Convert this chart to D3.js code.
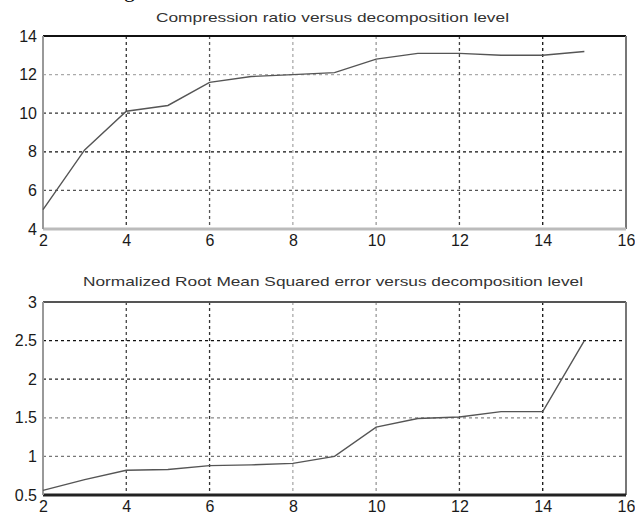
<!DOCTYPE html>
<html>
<head>
<meta charset="utf-8">
<script src="https://cdn.jsdelivr.net/npm/d3@7"></script>
<style>
  body { margin: 0; background: #fff; }
  svg { display: block; font-family: "Liberation Sans", Arial, sans-serif; }
</style>
</head>
<body>
<svg id="chart" width="635" height="520"></svg>
<script>
// decomposition levels
var levels = [2, 3, 4, 5, 6, 7, 8, 9, 10, 11, 12, 13, 14, 15];
// compression ratio per level
var ratio = [5.0, 8.1, 10.1, 10.4, 11.6, 11.9, 12.0, 12.1, 12.8, 13.1, 13.1, 13.0, 13.0, 13.2];
// normalized RMS error per level
var nrmse = [0.56, 0.70, 0.82, 0.83, 0.88, 0.89, 0.91, 1.0, 1.38, 1.49, 1.51, 1.58, 1.58, 2.5];

var xTicks = [2, 4, 6, 8, 10, 12, 14, 16];
var ratioTicks = [4, 6, 8, 10, 12, 14];
var errTicks = [0.5, 1, 1.5, 2, 2.5, 3];

var titles = [
    "Compression ratio versus decomposition level",
    "Normalized Root Mean Squared error versus decomposition level"
];

var svg = d3.select("svg#chart");

// fragment of the document text above the figure (cut off like in the scan)
svg.append("text")
    .attr("x", 124).attr("y", -3)
    .style("font", "22px 'Liberation Serif', serif")
    .text("g");

var drawPanel = (opts) => {
    var x = d3.scaleLinear().domain([2, 16]).range([43, 626]);
    var y = d3.scaleLinear().domain(opts.yDomain).range([opts.bottom, opts.top]);

    var g = svg.append("g");

    // horizontal grid
    g.append("g").selectAll("line")
        .data(opts.yTicks.slice(1, -1))
        .join("line")
        .attr("x1", x(2)).attr("x2", x(16))
        .attr("y1", d => y(d)).attr("y2", d => y(d))
        .attr("stroke", (d, i) => opts.hColors[i])
        .attr("stroke-width", 1.3)
        .attr("stroke-dasharray", "3,3");

    // vertical grid
    g.append("g").selectAll("line")
        .data(xTicks.slice(1, -1))
        .join("line")
        .attr("x1", d => x(d)).attr("x2", d => x(d))
        .attr("y1", opts.top).attr("y2", opts.bottom)
        .attr("stroke", (d, i) => opts.vColors[i])
        .attr("stroke-width", 1.3)
        .attr("stroke-dasharray", "3,3");

    // frame
    var frame = [
        {x1: x(2), y1: opts.top, x2: x(16), y2: opts.top, c: opts.frame[0], w: opts.frameW[0]},
        {x1: x(16), y1: opts.top, x2: x(16), y2: opts.bottom, c: opts.frame[1], w: opts.frameW[1]},
        {x1: x(2), y1: opts.bottom, x2: x(16), y2: opts.bottom, c: opts.frame[2], w: opts.frameW[2]},
        {x1: x(2), y1: opts.top, x2: x(2), y2: opts.bottom, c: opts.frame[3], w: opts.frameW[3]}
    ];
    g.append("g").selectAll("line")
        .data(frame)
        .join("line")
        .attr("x1", d => d.x1).attr("x2", d => d.x2)
        .attr("y1", d => d.y1).attr("y2", d => d.y2)
        .attr("stroke", d => d.c)
        .attr("stroke-width", d => d.w);

    // data line
    var line = d3.line()
        .x((d, i) => x(levels[i]))
        .y(d => y(d));
    g.append("path")
        .datum(opts.values)
        .attr("fill", "none")
        .attr("stroke", "#555")
        .attr("stroke-width", 1.4)
        .attr("d", line);

    // axes (labels only)
    g.append("g")
        .attr("transform", `translate(0,${opts.bottom})`)
        .call(d3.axisBottom(x).tickValues(xTicks).tickSize(0).tickPadding(6).tickFormat(d3.format("d")))
        .call(a => a.select(".domain").remove())
        .call(a => a.selectAll("text").attr("fill", "#1a1a1a").style("font-size", "16px").style("font-family", "'Liberation Sans', Arial, sans-serif"));

    g.append("g")
        .attr("transform", `translate(${x(2)},0)`)
        .call(d3.axisLeft(y).tickValues(opts.yTicks).tickSize(0).tickPadding(6).tickFormat(d => String(d)))
        .call(a => a.select(".domain").remove())
        .call(a => a.selectAll("text").attr("fill", "#1a1a1a").style("font-size", "16px").style("font-family", "'Liberation Sans', Arial, sans-serif"));

    // title
    g.append("text")
        .attr("x", opts.titleX)
        .attr("y", opts.titleY)
        .attr("textLength", opts.titleW)
        .attr("lengthAdjust", "spacingAndGlyphs")
        .attr("fill", "#333")
        .style("font-size", "13px")
        .text(opts.title);
};

drawPanel({
    top: 36, bottom: 229,
    yDomain: [4, 14], yTicks: ratioTicks, values: ratio,
    hColors: ["#555", "#111", "#333", "#aaa"],
    vColors: ["#333", "#555", "#aaa", "#999", "#444", "#111"],
    frame: ["#111", "#777", "#bbb", "#999"], frameW: [2, 2, 3, 2],
    title: titles[0], titleX: 156, titleY: 22, titleW: 353
});

drawPanel({
    top: 302, bottom: 495,
    yDomain: [0.5, 3], yTicks: errTicks, values: nrmse,
    hColors: ["#777", "#888", "#222", "#111"],
    vColors: ["#444", "#333", "#aaa", "#999", "#444", "#111"],
    frame: ["#555", "#777", "#222", "#999"], frameW: [2, 2, 3, 2],
    title: titles[1], titleX: 83, titleY: 286, titleW: 500
});
</script>
</body>
</html>
